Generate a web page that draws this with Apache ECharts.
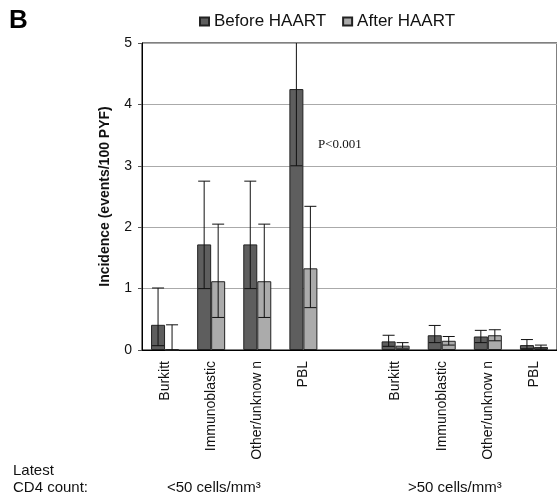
<!DOCTYPE html>
<html>
<head>
<meta charset="utf-8">
<script src="https://cdn.jsdelivr.net/npm/echarts@6/dist/echarts.min.js"></script>
<style>
  html, body { margin: 0; padding: 0; background: #fff; }
  #main { width: 557px; height: 499px; }
</style>
</head>
<body>
<div id="main"></div>
<script>
    // categories, index 4 is the empty gap between the two CD4 groups
    var categories = ['Burkitt', 'Immunoblastic', 'Other/unknow n', 'PBL', '',
                      'Burkitt', 'Immunoblastic', 'Other/unknow n', 'PBL'];
    var yTicks = [0, 1, 2, 3, 4, 5];

    // Before HAART: incidence and CI (events/100 PYF)
    var before     = [0.41, 1.72, 1.72, 4.25, '-', 0.14, 0.24, 0.22, 0.08];
    var beforeLow  = [0.07, 1.00, 1.00, 3.00, '-', 0.06, 0.12, 0.12, 0.02];
    var beforeHigh = [1.01, 2.75, 2.75, 5.50, '-', 0.24, 0.40, 0.32, 0.17];

    // After HAART
    var after     = [0, 1.12, 1.12, 1.33, '-', 0.07, 0.15, 0.24, 0.05];
    var afterLow  = [0, 0.53, 0.53, 0.69, '-', 0.03, 0.08, 0.15, 0.02];
    var afterHigh = [0.41, 2.05, 2.05, 2.34, '-', 0.12, 0.22, 0.33, 0.08];

    var FONT = 'Liberation Sans, Arial, sans-serif';

    function errData(low, high) {
        var out = [];
        for (var i = 0; i < low.length; i++) {
            if (low[i] === '-') continue;
            out.push([i, low[i], high[i]]);
        }
        return out;
    }

    // T-shaped error bar, shifted onto its own bar
    function errRender(offset) {
        return function (params, api) {
            var x = api.coord([api.value(0), 0])[0] + offset;
            var lo = api.coord([api.value(0), api.value(1)])[1];
            var hi = api.coord([api.value(0), api.value(2)])[1];
            var st = { stroke: '#111', lineWidth: 1 };
            return {
                type: 'group',
                children: [
                    { type: 'line', shape: { x1: x, y1: lo, x2: x, y2: hi }, style: st },
                    { type: 'line', shape: { x1: x - 6, y1: hi, x2: x + 6, y2: hi }, style: st },
                    { type: 'line', shape: { x1: x - 6, y1: lo, x2: x + 6, y2: lo }, style: st }
                ]
            };
        };
    }

    var chart = echarts.init(document.getElementById('main'), null, { renderer: 'canvas' });

    chart.setOption({
        animation: false,
        backgroundColor: '#fff',
        textStyle: { fontFamily: FONT },
        legend: {
            data: ['Before HAART', 'After HAART'],
            left: 194,
            top: 8,
            icon: 'rect',
            itemWidth: 9,
            itemHeight: 8,
            itemGap: 16,
            textStyle: { fontSize: 17, color: '#111', fontFamily: FONT }
        },
        grid: {
            left: 142, top: 43, right: -3, bottom: 149,
            show: true, borderColor: '#000', borderWidth: 1
        },
        xAxis: {
            type: 'category',
            data: categories,
            axisLine: { lineStyle: { color: '#000' } },
            axisTick: { interval: 0, length: 5, lineStyle: { color: '#555' } },
            axisLabel: {
                interval: 0, rotate: 90, margin: 11,
                fontSize: 14, color: '#111', fontFamily: FONT
            }
        },
        yAxis: {
            type: 'value',
            min: yTicks[0],
            max: yTicks[yTicks.length - 1],
            interval: 1,
            name: 'Incidence (events/100 PYF)',
            nameLocation: 'middle',
            nameGap: 30,
            nameTextStyle: { fontSize: 14, fontWeight: 'bold', color: '#111', fontFamily: FONT },
            axisLine: { show: true, lineStyle: { color: '#000' } },
            axisTick: { show: true, length: 4, lineStyle: { color: '#555' } },
            axisLabel: { fontSize: 14, margin: 10, color: '#111', fontFamily: FONT },
            splitLine: { lineStyle: { color: '#aaa' } }
        },
        series: [
            {
                name: 'Before HAART',
                type: 'bar',
                barWidth: 14,
                barGap: '0%',
                itemStyle: { color: '#5e5e5e', borderColor: '#222', borderWidth: 1 },
                data: before
            },
            {
                name: 'After HAART',
                type: 'bar',
                barWidth: 14,
                itemStyle: { color: '#ababab', borderColor: '#222', borderWidth: 1 },
                data: after
            },
            {
                type: 'custom',
                renderItem: errRender(-7),
                clip: true,
                z: 5,
                data: errData(beforeLow, beforeHigh)
            },
            {
                type: 'custom',
                renderItem: errRender(7),
                clip: true,
                z: 5,
                data: errData(afterLow, afterHigh)
            }
        ],
        graphic: [
            { type: 'text', left: 9, top: 8, style: { text: 'B', font: 'bold 26px ' + FONT, fill: '#000' } },
            { type: 'text', left: 318, top: 138, style: { text: 'P<0.001', font: '13px Liberation Serif, Times New Roman, serif', fill: '#111' } },
            { type: 'text', left: 13, top: 463, style: { text: 'Latest', font: '15px ' + FONT, fill: '#111' } },
            { type: 'text', left: 13, top: 480, style: { text: 'CD4 count:', font: '15px ' + FONT, fill: '#111' } },
            { type: 'text', left: 167, top: 480, style: { text: '<50 cells/mm³', font: '15px ' + FONT, fill: '#111' } },
            { type: 'text', left: 408, top: 480, style: { text: '>50 cells/mm³', font: '15px ' + FONT, fill: '#111' } }
        ]
    });
</script>
</body>
</html>
